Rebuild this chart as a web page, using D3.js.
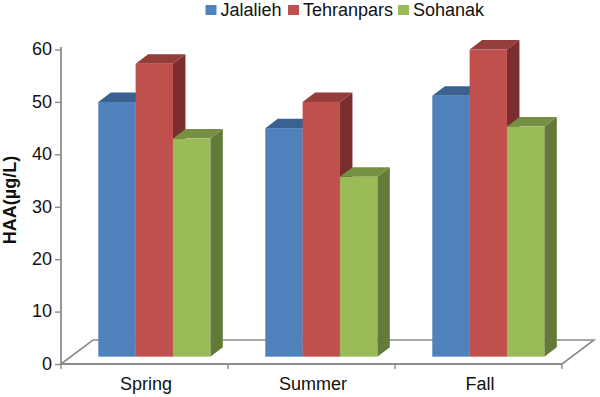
<!DOCTYPE html>
<html><head><meta charset="utf-8">
<script src="https://cdn.jsdelivr.net/npm/d3@7"></script>
<style>html,body{margin:0;padding:0;background:#fff}svg{display:block}text{font-family:"Liberation Sans",Arial,sans-serif;fill:#111}</style>
</head><body><svg id="c" width="600" height="397"></svg>
<script>
const categories = ["Spring", "Summer", "Fall"];
const seriesNames = ["Jalalieh", "Tehranpars", "Sohanak"];
const jalalieh = [50, 45, 51.2];
const tehranpars = [57.3, 50, 60];
const sohanak = [43, 35.7, 45.3];
const yTicks = [0, 10, 20, 30, 40, 50, 60];
const seriesValues = [jalalieh, tehranpars, sohanak];
const front = ["#4f81bd", "#c0504d", "#9bbb59"];
const topc = ["#3b6191", "#943d3a", "#769043"];
const side = ["#2f4e75", "#7a2f2e", "#647a38"];

const svg = d3.select("#c");
const axisColor = "#8c8c8c";
const x = d3.scaleBand().domain(categories).range([61, 562]);
const y = d3.scaleLinear().domain([0, 60]).range([364, 49.5]);
const inner = d3.scaleBand().domain(seriesNames).range([0, 112]);
const dx = 12.5, dy = 9.5, base = 1.4, floorDx = 32, floorDy = 24;

// floor
const fy0 = y(0), fy1 = fy0 - floorDy;
svg.append("path").attr("fill","none").attr("stroke",axisColor).attr("stroke-width",1.6)
  .attr("d", d3.line()([[x.range()[0],fy0],[x.range()[0]+floorDx,fy1],[x.range()[1]+floorDx,fy1],[x.range()[1],fy0]]));

// bars
const groups = svg.selectAll("g.cat").data(categories).join("g")
  .attr("transform", c => `translate(${x(c)+37.3},0)`);
groups.each(function(c, ci) {
  const g = d3.select(this);
  seriesNames.forEach((s, si) => {
    const v = seriesValues[si][ci];
    const x0 = inner(s), x1 = x0 + inner.bandwidth();
    const t = y(v), b = y(base);
    g.append("path").attr("fill", side[si])
      .attr("d", d3.line()([[x1,t],[x1+dx,t-dy],[x1+dx,b-dy],[x1,b]]));
    g.append("path").attr("fill", topc[si])
      .attr("d", d3.line()([[x0,t],[x0+dx,t-dy],[x1+dx,t-dy],[x1,t]]));
  });
  seriesNames.forEach((s, si) => {
    const v = seriesValues[si][ci];
    g.append("rect").attr("x", inner(s)).attr("y", y(v))
      .attr("width", inner.bandwidth()).attr("height", y(base) - y(v))
      .attr("fill", front[si]);
  });
});

// axes
const yAxis = d3.axisLeft(y).tickValues(yTicks).tickSize(6).tickPadding(3).tickFormat(d3.format("d"));
const gy = svg.append("g").attr("transform","translate(61,0)").call(yAxis);
gy.select(".domain").attr("stroke",axisColor).attr("stroke-width",1.8).attr("d",`M0,${y(0)}V47`);
gy.selectAll(".tick line").attr("stroke",axisColor).attr("stroke-width",1.4);
gy.selectAll("text").attr("font-size",18).attr("fill","#111").attr("dy","0.3em").style("font-family",'"Liberation Sans"');

const xAxis = d3.axisBottom(x).tickSize(0).tickPadding(13);
const gx = svg.append("g").attr("transform",`translate(0,${y(0)})`).call(xAxis);
gx.select(".domain").attr("stroke",axisColor).attr("stroke-width",1.8).attr("d",`M61,0H562`);
gx.selectAll(".tick text").attr("font-size",18).attr("fill","#111").attr("dx",1.5).style("font-family",'"Liberation Sans"');
gx.selectAll("line.sep").data([...categories.map(c=>x(c)), x.range()[1]]).join("line").attr("class","sep")
  .attr("x1",d=>d).attr("x2",d=>d).attr("y1",0).attr("y2",5).attr("stroke",axisColor).attr("stroke-width",1.4);

// axis title
svg.append("text").attr("transform","translate(16,200) rotate(-90)").attr("text-anchor","middle")
  .attr("font-size",18).attr("font-weight","bold").text("HAA(µg/L)");

// legend
const legendX = [205.5, 288, 398];
seriesNames.forEach((s,i)=>{
  svg.append("rect").attr("x",legendX[i]).attr("y",5).attr("width",11).attr("height",10).attr("fill",front[i]);
  svg.append("text").attr("x",legendX[i]+15).attr("y",16).attr("font-size",18).text(s);
});
</script></body></html>
